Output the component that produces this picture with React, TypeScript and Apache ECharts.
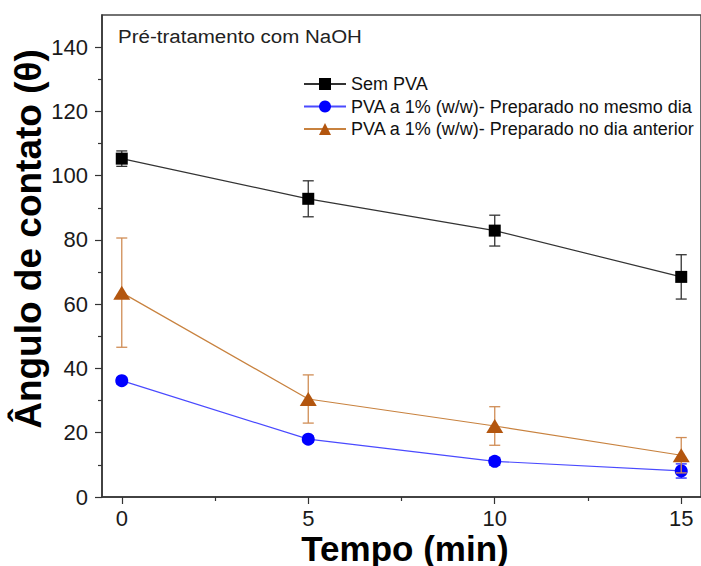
import React, { useEffect, useRef } from "react";
import * as echarts from "echarts";

const times = [0, 5, 10, 15];
const semPVA = [105.3, 92.8, 82.9, 68.5];
const semPVAErr = [2.4, 5.6, 4.8, 6.9];
const mesmoDia = [36.2, 18.0, 11.1, 8.1];
const mesmoDiaErr = [1.0, 1.0, 1.2, 2.2];
const diaAnterior = [63.6, 30.5, 22.1, 13.0];
const diaAnteriorErr = [17.0, 7.5, 6.0, 5.5];

const seriesNames = [
  "Sem PVA",
  "PVA a 1% (w/w)- Preparado no mesmo dia",
  "PVA a 1% (w/w)- Preparado no dia anterior",
];
const xMajorTicks = [0, 5, 10, 15];
const xMinorTicks = [2.5, 7.5, 12.5];
const yMajorTicks = [0, 20, 40, 60, 80, 100, 120, 140];
const yMinorTicks = [10, 30, 50, 70, 90, 110, 130];

const FONT = '"Liberation Sans", Arial, sans-serif';

function errorSeries(vals: number[], errs: number[], color: string, z: number) {
  return {
    type: "custom",
    z,
    silent: true,
    xAxisIndex: 0,
    yAxisIndex: 0,
    encode: { x: 0, y: 1 },
    data: times.map((t, i) => [t, vals[i], errs[i]]),
    renderItem: (params: any, api: any) => {
      const x = api.value(0);
      const y = api.value(1);
      const e = api.value(2);
      const top = api.coord([x, y + e]);
      const bot = api.coord([x, y - e]);
      const hw = 5.5;
      const st = { stroke: color, lineWidth: 1.3 };
      return {
        type: "group",
        children: [
          { type: "line", shape: { x1: top[0], y1: top[1], x2: bot[0], y2: bot[1] }, style: st },
          { type: "line", shape: { x1: top[0] - hw, y1: top[1], x2: top[0] + hw, y2: top[1] }, style: st },
          { type: "line", shape: { x1: bot[0] - hw, y1: bot[1], x2: bot[0] + hw, y2: bot[1] }, style: st },
        ],
      };
    },
  };
}

export default function App() {
  const ref = useRef<HTMLDivElement>(null);
  useEffect(() => {
    if (!ref.current) return;
    const chart = echarts.init(ref.current, null, { renderer: "svg" });
    const axisColor = "#333";
    chart.setOption({
      animation: false,
      backgroundColor: "#fff",
      grid: {
        left: 102,
        top: 15,
        bottom: 69,
        right: -6.5,
        show: true,
        borderColor: "#444",
        borderWidth: 1.5,
        containLabel: false,
      },
      legend: {
        left: 303,
        top: 75,
        padding: 0,
        orient: "vertical",
        itemWidth: 42,
        itemHeight: 15,
        itemGap: 4.5,
        textStyle: { fontFamily: FONT, fontSize: 18, color: "#111", lineHeight: 18 },
        data: seriesNames,
      },
      xAxis: [
        {
          type: "value",
          min: -0.53,
          max: 15.53,
          position: "bottom",
          axisLine: { show: true, onZero: false, lineStyle: { color: axisColor, width: 1.5 } },
          axisTick: { show: true, customValues: xMajorTicks, length: 7, lineStyle: { color: axisColor, width: 1.2 } },
          axisLabel: { customValues: xMajorTicks, margin: 10, fontFamily: FONT, fontSize: 22, color: "#1a1a1a" },
          splitLine: { show: false },
        },
        {
          type: "value",
          min: -0.53,
          max: 15.53,
          position: "bottom",
          axisLine: { show: false, onZero: false },
          axisTick: { show: true, customValues: xMinorTicks, length: 4, lineStyle: { color: axisColor, width: 1.2 } },
          axisLabel: { show: false },
          splitLine: { show: false },
        },
      ],
      yAxis: [
        {
          type: "value",
          min: 0,
          max: 150,
          position: "left",
          axisLine: { show: true, onZero: false, lineStyle: { color: axisColor, width: 1.5 } },
          axisTick: { show: true, customValues: yMajorTicks, length: 7, lineStyle: { color: axisColor, width: 1.2 } },
          axisLabel: { customValues: yMajorTicks, margin: 14, fontFamily: FONT, fontSize: 22, color: "#1a1a1a" },
          splitLine: { show: false },
        },
        {
          type: "value",
          min: 0,
          max: 150,
          position: "left",
          axisLine: { show: false, onZero: false },
          axisTick: { show: true, customValues: yMinorTicks, length: 4, lineStyle: { color: axisColor, width: 1.2 } },
          axisLabel: { show: false },
          splitLine: { show: false },
        },
      ],
      graphic: [
        {
          type: "text",
          x: 118,
          y: 36.5,
          scaleX: 1.08,
          style: {
            text: "Pré-tratamento com NaOH",
            fontFamily: FONT,
            fontSize: 19,
            fill: "#222",
            align: "left",
            verticalAlign: "middle",
          },
        },
        {
          type: "text",
          x: 28,
          y: 239,
          rotation: Math.PI / 2,
          style: {
            text: "Ângulo de contato (θ)",
            fontFamily: FONT,
            fontSize: 37,
            fontWeight: "bold",
            fill: "#000",
            align: "center",
            verticalAlign: "middle",
          },
        },
        {
          type: "text",
          x: 405,
          y: 548,
          style: {
            text: "Tempo (min)",
            fontFamily: FONT,
            fontSize: 35,
            lineHeight: 26,
            fontWeight: "bold",
            fill: "#000",
            align: "center",
            verticalAlign: "middle",
          },
        },
      ],
      series: [
        errorSeries(mesmoDia, mesmoDiaErr, "#2020ff", 1),
        {
          name: seriesNames[1],
          type: "line",
          z: 2,
          data: times.map((t, i) => [t, mesmoDia[i]]),
          symbol: "circle",
          symbolSize: 13,
          lineStyle: { color: "#4a4aff", width: 1.2 },
          itemStyle: { color: "#0000ff" },
        },
        errorSeries(diaAnterior, diaAnteriorErr, "#d08d55", 3),
        {
          name: seriesNames[2],
          type: "line",
          z: 4,
          data: times.map((t, i) => [t, diaAnterior[i]]),
          symbol: "triangle",
          symbolSize: [17, 14],
          lineStyle: { color: "#c8823f", width: 1.2 },
          itemStyle: { color: "#b3560f" },
        },
        errorSeries(semPVA, semPVAErr, "#333", 5),
        {
          name: seriesNames[0],
          type: "line",
          z: 6,
          data: times.map((t, i) => [t, semPVA[i]]),
          symbol: "rect",
          symbolSize: 12,
          lineStyle: { color: "#333", width: 1.2 },
          itemStyle: { color: "#000" },
        },
      ],
    });
    return () => chart.dispose();
  }, []);
  return (
    <div
      ref={ref}
      style={{ position: "absolute", left: 0, top: 0, width: 701, height: 566, background: "#fff" }}
    />
  );
}
